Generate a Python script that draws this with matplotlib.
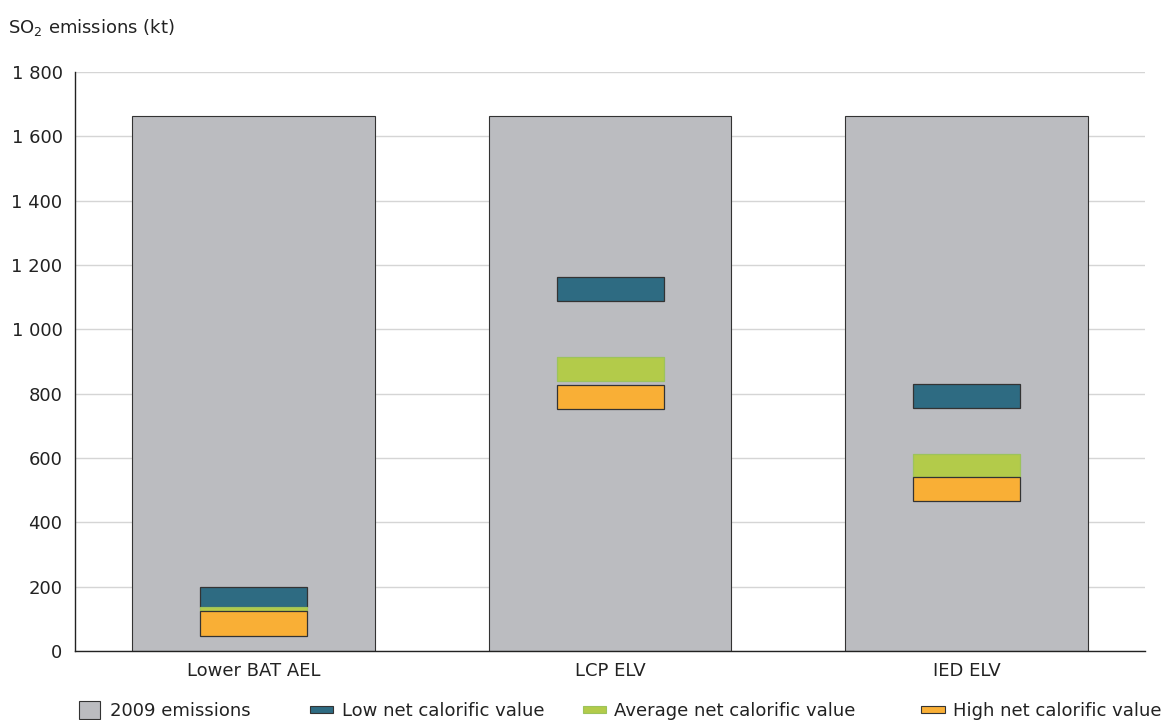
import matplotlib.pyplot as plt
from matplotlib.patches import Rectangle
from matplotlib.legend_handler import HandlerPatch
from matplotlib.ticker import FuncFormatter

categories = ["Lower BAT AEL", "LCP ELV", "IED ELV"]
emissions_2009 = [1662, 1662, 1662]
low_bottom = [138, 1088, 756]
low_top = [200, 1163, 830]
avg_bottom = [124, 840, 540]
avg_top = [138, 914, 612]
high_bottom = [48, 752, 465]
high_top = [124, 826, 540]

c_gray = "#BBBCC0"
c_blue = "#2E6B82"
c_green = "#B3CB4A"
c_orange = "#F9AF36"
edge = "#333333"

FS = 13
plt.rcParams['font.family'] = ['DejaVu Sans']
plt.rcParams['font.size'] = FS

fig = plt.figure(figsize=(11.67, 7.2), dpi=100)
ax = fig.add_axes([75/1167, 1-651/720, (1145-75)/1167, (651-72)/720])

x = list(range(len(categories)))
ax.bar(x, emissions_2009, width=0.68, color=c_gray, edgecolor=edge, linewidth=0.8, zorder=2)

def floating(bottom, top, color, ec):
    h = [t - b for b, t in zip(bottom, top)]
    ax.bar(x, h, bottom=bottom, width=0.30, color=color, edgecolor=ec, linewidth=0.9, zorder=3)

floating(low_bottom, low_top, c_blue, edge)
floating(avg_bottom, avg_top, c_green, "#9CC35C")
floating(high_bottom, high_top, c_orange, edge)

ax.set_xlim(-0.5, 2.5)
ax.set_ylim(0, 1800)
ax.set_yticks(range(0, 1801, 200))
ax.yaxis.set_major_formatter(FuncFormatter(lambda v, p: f"{int(v):,}".replace(",", " ")))
ax.set_xticks(x)
ax.set_xticklabels(categories)
ax.tick_params(axis='y', length=0, pad=9, labelcolor="#222222")
ax.tick_params(axis='x', length=0, pad=8, labelcolor="#222222")
ax.grid(axis='y', color="#D5D5D5", linewidth=1, zorder=0)
ax.set_axisbelow(True)
for s in ["top", "right"]:
    ax.spines[s].set_visible(False)
for s in ["left", "bottom"]:
    ax.spines[s].set_color("#222222")
    ax.spines[s].set_linewidth(1)

fig.text(8/1167, 1-27/720, "SO$_\\mathregular{2}$ emissions (kt)", ha="left", va="center", color="#222222")

# legend, one entry each so they sit where the original puts them
fs_px = FS * 100 / 72

def box_handle(h_px):
    def make(legend, orig_handle, xdescent, ydescent, width, height, fontsize):
        hh = h_px / fs_px * fontsize
        return Rectangle((-xdescent, -ydescent + height / 2 - hh / 2), width, hh)
    return make

entries = [
    ("2009 emissions", c_gray, edge, 79, 21, 18, 10),
    ("Low net calorific value", c_blue, edge, 310, 23, 7, 9),
    ("Average net calorific value", c_green, "#9CC35C", 583, 23, 7, 8),
    ("High net calorific value", c_orange, edge, 921, 24, 7, 8),
]
for label, col, ec, xpx, wpx, hpx, gap in entries:
    p = Rectangle((0, 0), 1, 1, facecolor=col, edgecolor=ec, linewidth=0.8)
    leg = fig.legend([p], [label], loc="center left",
                     bbox_to_anchor=(xpx/1167, 1-710/720),
                     frameon=False, borderpad=0, borderaxespad=0,
                     handlelength=wpx/fs_px, handleheight=1.2,
                     handletextpad=gap/fs_px,
                     handler_map={p: HandlerPatch(patch_func=box_handle(hpx))})
    for t in leg.get_texts():
        t.set_color("#222222")

fig.savefig("out.png", dpi=100)
